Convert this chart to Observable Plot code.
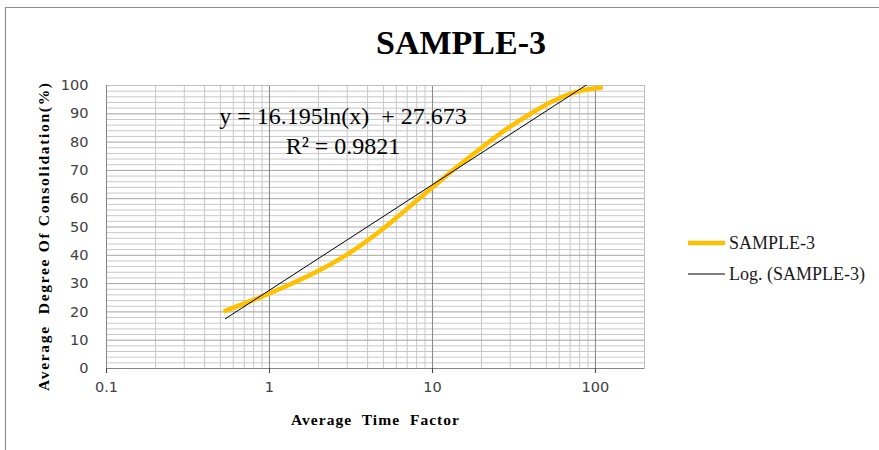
<!DOCTYPE html>
<html>
<head>
<meta charset="utf-8">
<script src="https://cdn.jsdelivr.net/npm/d3@7"></script>
<script src="https://cdn.jsdelivr.net/npm/@observablehq/plot@0.6"></script>
<style>
  body { margin: 0; background: white; }
  #chart { width: 879px; height: 450px; }
</style>
</head>
<body>
<div id="chart"></div>
<script>
// ---- data ----
const chartTitle = "SAMPLE-3";
const seriesName = "SAMPLE-3";
const trendName = "Log. (SAMPLE-3)";
const xLabel = "Average  Time  Factor";
const yLabel = "Average  Degree Of Consolidation(%)";
const xTicks = [0.1, 1, 10, 100];
const xTickLabels = ["0.1", "1", "10", "100"];
const yTicks = [0, 10, 20, 30, 40, 50, 60, 70, 80, 90, 100];
const sampleX = [0.536, 1, 2, 3, 5, 7, 10, 14, 20, 28, 40, 55, 70, 85, 108];
const sampleY = [20.4, 26.5, 34.5, 40.3, 49.5, 56.5, 64, 71, 78, 84.3, 90, 94.5, 97, 98.4, 99.2];
const trendA = 16.195;   // y = a ln(x) + b
const trendB = 27.673;
const rSquared = "0.9821";
const equationText = "y = 16.195ln(x)  + 27.673";

// ---- derived tables ----
const sample = sampleX.map((x, i) => ({x, y: sampleY[i]}));
const trendXs = [sampleX[0], sampleX[sampleX.length - 1]];
const trend = trendXs.map(x => ({x, y: trendA * Math.log(x) + trendB}));
const minorX = [];
for (const dec of [0.1, 1, 10, 100]) for (let k = 2; k <= 9; k++) { const v = dec * k; if (v < 200) minorX.push(v); }
const minorY = d3.range(2, 100, 2).filter(v => v % 10 !== 0);

const plot = Plot.plot({
  width: 879, height: 450,
  marginLeft: 106, marginRight: 235, marginTop: 85, marginBottom: 82,
  style: {fontFamily: "'DejaVu Sans', sans-serif", fontSize: "14.5px", color: "#404040", background: "white", overflow: "visible"},
  x: {type: "log", domain: [0.1, 200]},
  y: {domain: [0, 100]},
  marks: [
    Plot.ruleX(minorX, {stroke: "#c8c8c8", strokeOpacity: 1}),
    Plot.ruleY(minorY, {stroke: "#c8c8c8", strokeOpacity: 1}),
    Plot.ruleY(yTicks.slice(1), {stroke: "#a3a3a3", strokeOpacity: 1}),
    Plot.ruleX(xTicks.slice(1), {stroke: "#858585", strokeOpacity: 1}),
    Plot.frame({stroke: "#bfbfbf"}),
    Plot.ruleX([xTicks[0]], {stroke: "#858585"}),
    Plot.ruleY([0], {stroke: "#858585"}),
    Plot.axisX({ticks: xTicks, tickFormat: d => xTickLabels[xTicks.indexOf(d)], tickSize: 5, tickPadding: 8, label: null}),
    Plot.axisY({ticks: yTicks, tickSize: 0, tickPadding: 18, label: null}),
    Plot.line(sample, {x: "x", y: "y", stroke: "#FFC000", strokeWidth: 4.5, curve: "catmull-rom"}),
    Plot.line(trend, {x: "x", y: "y", stroke: "#000000", strokeWidth: 1, clip: true})
  ]
});

document.getElementById("chart").appendChild(plot);
const svg = d3.select(plot);

// outer chart border (left and top)
svg.insert("path", ":first-child")
  .attr("d", "M5.5,450V7.5H879").attr("fill", "none").attr("stroke", "#8c8c8c").attr("stroke-width", 1.2);

const serif = "'Liberation Serif', 'Times New Roman', serif";

function addText(sel, txt) {
  return sel.append("text").text(txt).style("font-family", serif).style("white-space", "pre").attr("fill", "#000");
}

addText(svg, chartTitle)
  .attr("x", 461).attr("y", 54).attr("text-anchor", "middle")
  .style("font-weight", "bold").style("font-size", "34px");

addText(svg, xLabel)
  .attr("x", 375).attr("y", 425).attr("text-anchor", "middle")
  .attr("textLength", 168).attr("lengthAdjust", "spacing")
  .style("font-weight", "bold").style("font-size", "15.5px");

addText(svg, yLabel)
  .attr("transform", "translate(49,237) rotate(-90)").attr("text-anchor", "middle")
  .attr("textLength", 308).attr("lengthAdjust", "spacing")
  .style("font-weight", "bold").style("font-size", "15.5px");

// trendline equation
addText(svg, equationText)
  .attr("x", 343).attr("y", 124).attr("text-anchor", "middle").style("font-size", "24px");
addText(svg, "R² = " + rSquared)
  .attr("x", 343).attr("y", 154).attr("text-anchor", "middle").style("font-size", "24px");

// legend
const leg = svg.append("g");
leg.append("line").attr("x1", 688).attr("x2", 725).attr("y1", 243).attr("y2", 243)
  .attr("stroke", "#FFC000").attr("stroke-width", 4.5);
addText(leg, seriesName).attr("x", 729).attr("y", 243).attr("dy", "0.35em")
  .attr("text-anchor", "start").style("font-size", "18px").attr("fill", "#1a1a1a");
leg.append("line").attr("x1", 688).attr("x2", 725).attr("y1", 274).attr("y2", 274)
  .attr("stroke", "#000").attr("stroke-width", 1.2);
addText(leg, trendName).attr("x", 729).attr("y", 274).attr("dy", "0.35em")
  .attr("text-anchor", "start").style("font-size", "18px").attr("fill", "#1a1a1a");
</script>
</body>
</html>
